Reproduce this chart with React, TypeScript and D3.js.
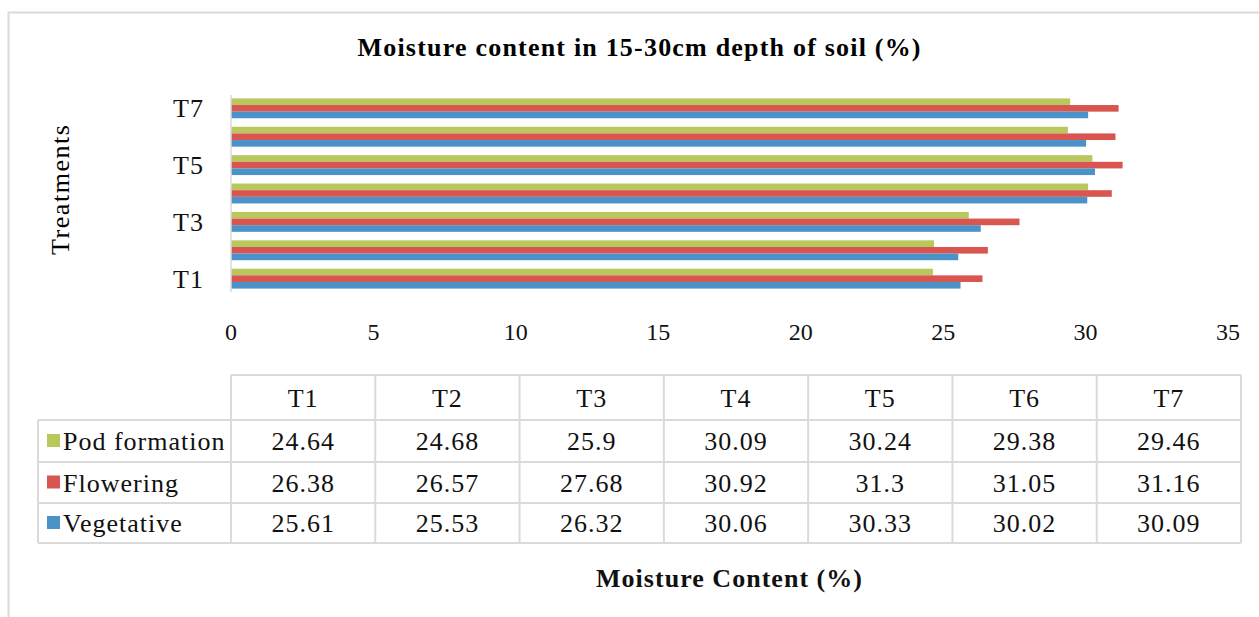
import React from "react";
import * as d3 from "d3";

const categories = ["T1", "T2", "T3", "T4", "T5", "T6", "T7"];
const podFormation = [24.64, 24.68, 25.9, 30.09, 30.24, 29.38, 29.46];
const flowering = [26.38, 26.57, 27.68, 30.92, 31.3, 31.05, 31.16];
const vegetative = [25.61, 25.53, 26.32, 30.06, 30.33, 30.02, 30.09];
const xTicks = [0, 5, 10, 15, 20, 25, 30, 35];
const yTickLabels = ["T1", "T3", "T5", "T7"];

const series = [
  { name: "Pod formation", values: podFormation, color: "#B8C85C" },
  { name: "Flowering", values: flowering, color: "#D9554F" },
  { name: "Vegetative", values: vegetative, color: "#4B92C9" },
];

const FONT = "'Liberation Serif', 'DejaVu Serif', serif";
const GRID = "#dadada";

export default function App() {
  const x = d3.scaleLinear().domain([0, 35]).range([231, 1228]);
  const y = d3
    .scaleBand<string>()
    .domain([...categories].reverse())
    .range([95, 292])
    .paddingInner(0.3)
    .paddingOuter(0.12);
  const ySub = d3
    .scaleBand<string>()
    .domain(series.map((s) => s.name))
    .range([0, y.bandwidth()]);

  // table geometry
  const tLeft = 231;
  const tRight = 1241;
  const colX = d3.scaleBand<string>().domain(categories).range([tLeft, tRight]);
  const rowTops = [375, 420, 462, 503, 543];
  const legendLeft = 38;
  const LS = 1;

  return (
    <svg
      width={1259}
      height={617}
      style={{ position: "absolute", left: 0, top: 0, background: "#fff" }}
      fontFamily={FONT}
    >
      {/* outer frame */}
      <line x1={8.5} y1={12} x2={8.5} y2={617} stroke={GRID} strokeWidth={2} />
      <line x1={8} y1={12.5} x2={1259} y2={12.5} stroke={GRID} strokeWidth={2} />

      {/* title */}
      <text
        x={639}
        y={56}
        textAnchor="middle"
        fontSize={26}
        fontWeight="bold"
        fill="#000"
        textLength={563}
        lengthAdjust="spacing"
      >
        Moisture content in 15-30cm depth of soil (%)
      </text>

      {/* y axis title */}
      <text
        transform="translate(69,190) rotate(-90)"
        textAnchor="middle"
        fontSize={26}
        fill="#000"
        textLength={130}
        lengthAdjust="spacing"
      >
        Treatments
      </text>

      {/* bars */}
      {categories.map((c, i) =>
        series.map((s) => (
          <rect
            key={c + s.name}
            x={x(0)}
            y={(y(c) as number) + (ySub(s.name) as number)}
            width={x(s.values[i]) - x(0)}
            height={ySub.bandwidth()}
            fill={s.color}
          />
        ))
      )}

      {/* y axis line */}
      <line x1={231} y1={95} x2={231} y2={292} stroke={GRID} strokeWidth={1.5} />

      {/* y tick labels */}
      {yTickLabels.map((t) => (
        <text
          key={t}
          x={204}
          y={(y(t) as number) + y.bandwidth() / 2 + 9}
          textAnchor="end"
          fontSize={26}
          letterSpacing={LS}
          fill="#111"
        >
          {t}
        </text>
      ))}

      {/* x tick labels */}
      {xTicks.map((t) => (
        <text key={t} x={x(t)} y={340} textAnchor="middle" fontSize={24} fill="#111">
          {t}
        </text>
      ))}

      {/* data table */}
      <g stroke={GRID} strokeWidth={2} fill="none">
        <line x1={tLeft} y1={rowTops[0]} x2={tRight} y2={rowTops[0]} />
        {rowTops.slice(1).map((ry) => (
          <line key={ry} x1={legendLeft} y1={ry} x2={tRight} y2={ry} />
        ))}
        <line x1={legendLeft} y1={rowTops[1]} x2={legendLeft} y2={rowTops[4]} />
        {categories.map((c) => (
          <line key={c} x1={colX(c)} y1={rowTops[0]} x2={colX(c)} y2={rowTops[4]} />
        ))}
        <line x1={tRight} y1={rowTops[0]} x2={tRight} y2={rowTops[4]} />
      </g>

      {/* header labels */}
      {categories.map((c) => (
        <text
          key={"h" + c}
          x={(colX(c) as number) + colX.bandwidth() / 2}
          y={(rowTops[0] + rowTops[1]) / 2 + 9}
          textAnchor="middle"
          fontSize={26}
          letterSpacing={LS}
          fill="#111"
        >
          {c}
        </text>
      ))}

      {/* rows */}
      {series.map((s, r) => {
        const top = rowTops[r + 1];
        const bottom = rowTops[r + 2];
        const mid = (top + bottom) / 2;
        return (
          <g key={"row" + s.name}>
            <rect x={47} y={mid - 7} width={13} height={13} fill={s.color} />
            <text x={63} y={mid + 9} fontSize={26} letterSpacing={LS} fill="#111">
              {s.name}
            </text>
            {s.values.map((v, i) => (
              <text
                key={i}
                x={(colX(categories[i]) as number) + colX.bandwidth() / 2}
                y={mid + 9}
                textAnchor="middle"
                fontSize={26}
                letterSpacing={LS}
                fill="#111"
              >
                {String(v)}
              </text>
            ))}
          </g>
        );
      })}

      {/* x axis title */}
      <text
        x={729}
        y={587}
        textAnchor="middle"
        fontSize={26}
        fontWeight="bold"
        fill="#111"
        textLength={266}
        lengthAdjust="spacing"
      >
        Moisture Content (%)
      </text>
    </svg>
  );
}
